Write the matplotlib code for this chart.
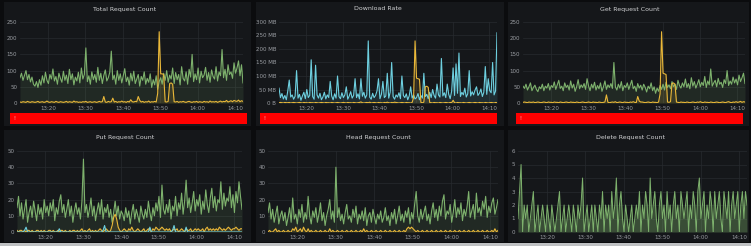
import numpy as np
import matplotlib
matplotlib.use("Agg")
import matplotlib.pyplot as plt
from matplotlib.patches import Rectangle

# ---------------- data ----------------
n_points = 150
start_min = 12.5          # minutes after 13:00
step_min = 0.4
x_tick_minutes = [20, 30, 40, 50, 60, 70]
x_tick_labels = ["13:20", "13:30", "13:40", "13:50", "14:00", "14:10"]

titles = ["Total Request Count", "Download Rate", "Get Request Count",
          "Put Request Count", "Head Request Count", "Delete Request Count"]

total_green = [78, 92, 70, 85, 100, 72, 88, 65, 80, 58,
               52, 66, 48, 72, 55, 84, 62, 95, 70, 60,
               88, 74, 105, 68, 82, 58, 92, 76, 64, 98,
               70, 86, 60, 104, 72, 90, 56, 80, 68, 95,
               62, 108, 74, 88, 170, 66, 84, 58, 96, 72,
               88, 64, 110, 70, 92, 60, 85, 102, 68, 78,
               95, 160, 72, 86, 58, 100, 70, 90, 62, 84,
               106, 66, 80, 55, 92, 68, 98, 60, 74, 88,
               52, 82, 70, 96, 58, 76, 64, 90, 48, 72,
               56, 84, 42, 66, 78, 58, 92, 70, 100, 64,
               86, 74, 108, 60, 94, 72, 88, 56, 112, 76,
               68, 96, 58, 104, 80, 150, 66, 90, 72, 108,
               62, 98, 78, 86, 110, 70, 94, 64, 102, 82,
               74, 112, 68, 96, 84, 165, 78, 104, 70, 118,
               88, 96, 76, 124, 92, 108, 130, 84, 118, 62]
total_yellow = [3, 2, 4, 3, 2, 5, 3, 2, 4, 3,
                2, 3, 5, 2, 3, 4, 2, 3, 6, 3,
                2, 4, 3, 2, 5, 3, 2, 4, 3, 2,
                3, 5, 2, 4, 3, 2, 6, 3, 4, 2,
                3, 2, 4, 3, 5, 2, 3, 4, 2, 3,
                4, 2, 3, 5, 3, 4, 20, 3, 2, 5,
                3, 4, 15, 3, 5, 2, 4, 3, 6, 3,
                4, 2, 5, 3, 10, 4, 3, 5, 4, 20,
                8, 3, 5, 2, 4, 3, 6, 2, 4, 3,
                5, 3, 30, 220, 90, 90, 88, 4, 3, 5,
                60, 62, 58, 4, 3, 5, 2, 4, 3, 5,
                3, 2, 4, 5, 3, 2, 4, 3, 5, 2,
                4, 3, 2, 5, 3, 4, 2, 6, 3, 4,
                3, 5, 2, 4, 6, 3, 5, 4, 8, 3,
                5, 7, 4, 8, 6, 5, 9, 4, 7, 5]

download_cyan = [55, 20, 35, 15, 28, 12, 45, 85, 22, 30,
                 14, 25, 120, 18, 32, 10, 26, 40, 16, 50,
                 20, 28, 160, 24, 14, 140, 30, 18, 36, 12,
                 22, 40, 15, 30, 20, 80, 26, 12, 34, 18,
                 100, 24, 16, 38, 20, 30, 60, 14, 26, 42,
                 18, 28, 90, 20, 34, 15, 90, 25, 40, 18,
                 30, 230, 22, 14, 36, 20, 28, 45, 90, 16,
                 32, 80, 20, 26, 110, 18, 40, 150, 24, 14,
                 30, 22, 38, 16, 100, 28, 20, 34, 12, 26,
                 60, 18, 30, 15, 20, 35, 12, 28, 18, 110,
                 24, 32, 16, 40, 20, 50, 28, 18, 70, 30,
                 22, 165, 26, 38, 20, 70, 32, 16, 44, 130,
                 28, 145, 36, 185, 24, 40, 30, 55, 22, 34,
                 120, 26, 42, 30, 48, 60, 28, 36, 52, 24,
                 40, 135, 32, 90, 46, 38, 150, 30, 44, 260]
download_yellow = [1, 2, 1, 0, 2, 1, 1, 2, 0, 1,
                   2, 1, 0, 1, 2, 1, 0, 2, 1, 1,
                   0, 2, 1, 1, 0, 2, 1, 0, 1, 2,
                   1, 0, 2, 1, 1, 0, 2, 1, 0, 1,
                   2, 1, 0, 1, 2, 1, 0, 2, 1, 1,
                   0, 2, 1, 0, 1, 2, 4, 1, 0, 1,
                   2, 1, 3, 0, 1, 2, 1, 0, 2, 1,
                   1, 0, 2, 1, 3, 1, 0, 2, 1, 3,
                   2, 1, 0, 1, 2, 1, 0, 2, 1, 1,
                   0, 2, 20, 230, 92, 90, 88, 2, 1, 3,
                   60, 62, 58, 2, 1, 0, 2, 1, 1, 0,
                   2, 1, 0, 1, 2, 1, 0, 2, 1, 10,
                   1, 0, 2, 1, 1, 0, 2, 1, 0, 1,
                   2, 1, 0, 1, 2, 1, 0, 2, 1, 1,
                   0, 2, 1, 0, 1, 2, 1, 0, 2, 1]

get_green = [52, 45, 58, 40, 50, 62, 38, 48, 55, 42,
             35, 50, 44, 58, 38, 52, 46, 60, 40, 54,
             48, 65, 42, 56, 70, 45, 52, 38, 62, 48,
             55, 40, 68, 46, 58, 36, 50, 72, 44, 56,
             48, 60, 42, 75, 52, 38, 58, 46, 64, 40,
             54, 44, 62, 36, 50, 68, 42, 56, 48, 60,
             45, 125, 50, 40, 58, 46, 66, 38, 54, 48,
             62, 42, 56, 70, 44, 52, 36, 60, 46, 55,
             40, 58, 48, 34, 52, 44, 62, 38, 50, 30,
             46, 36, 54, 42, 58, 40, 64, 48, 56, 44,
             66, 50, 58, 42, 70, 54, 46, 62, 50, 74,
             48, 60, 44, 78, 52, 66, 46, 58, 72, 50,
             64, 54, 82, 48, 68, 56, 105, 52, 62, 70,
             50, 76, 58, 64, 48, 72, 60, 100, 54, 68,
             58, 80, 62, 74, 56, 86, 66, 78, 92, 60]
get_yellow = [2, 3, 2, 1, 3, 2, 2, 3, 1, 2,
              3, 2, 1, 2, 3, 2, 1, 3, 2, 2,
              1, 3, 2, 2, 1, 3, 2, 1, 2, 3,
              2, 1, 3, 2, 2, 1, 3, 2, 1, 2,
              3, 2, 1, 2, 3, 2, 1, 3, 2, 2,
              1, 3, 2, 1, 2, 3, 25, 2, 1, 2,
              3, 2, 4, 1, 2, 3, 2, 1, 3, 2,
              2, 1, 3, 2, 4, 2, 1, 20, 6, 3,
              3, 2, 1, 2, 3, 2, 1, 3, 2, 2,
              1, 3, 28, 220, 92, 90, 88, 3, 2, 4,
              60, 62, 58, 3, 2, 1, 3, 2, 2, 1,
              3, 2, 1, 2, 3, 2, 1, 3, 2, 4,
              2, 1, 3, 2, 2, 1, 3, 2, 1, 2,
              3, 2, 1, 2, 3, 2, 1, 3, 4, 2,
              1, 3, 2, 4, 2, 3, 5, 2, 4, 3]

put_green = [15, 22, 10, 18, 8, 14, 20, 6, 12, 16,
             9, 19, 13, 7, 17, 11, 15, 8, 20, 12,
             16, 10, 18, 13, 20, 7, 15, 11, 19, 23,
             12, 17, 9, 14, 20, 10, 16, 6, 13, 18,
             11, 15, 8, 19, 45, 12, 17, 9, 14, 21,
             10, 16, 7, 13, 18, 11, 20, 8, 15, 12,
             17, 9, 14, 6, 12, 19, 10, 16, 8, 13,
             11, 7, 15, 9, 13, 5, 12, 17, 8, 14,
             10, 6, 16, 11, 8, 14, 9, 19, 12, 7,
             15, 10, 18, 13, 22, 9, 29, 14, 11, 17,
             12, 20, 8, 16, 13, 22, 10, 18, 14, 24,
             11, 19, 32, 15, 21, 12, 18, 25, 13, 20,
             16, 23, 11, 19, 14, 26, 17, 12, 21, 27,
             15, 22, 13, 20, 18, 31, 14, 24, 16, 21,
             19, 28, 15, 23, 12, 25, 18, 31, 22, 14]
put_yellow = [1, 0, 1, 1, 0, 1, 0, 1, 1, 0,
              1, 0, 0, 1, 1, 0, 1, 0, 1, 0,
              0, 1, 1, 0, 1, 0, 0, 1, 0, 1,
              1, 0, 1, 0, 0, 1, 0, 1, 1, 0,
              1, 0, 1, 2, 0, 1, 0, 1, 2, 0,
              1, 0, 1, 0, 1, 2, 1, 0, 1, 2,
              1, 0, 1, 4, 9, 11, 8, 3, 1, 0,
              1, 2, 1, 0, 2, 1, 3, 1, 0, 1,
              2, 1, 0, 1, 2, 0, 1, 2, 1, 0,
              2, 1, 3, 2, 1, 2, 3, 2, 1, 2,
              1, 2, 0, 1, 2, 1, 2, 0, 1, 2,
              1, 0, 2, 1, 1, 2, 0, 1, 2, 1,
              2, 1, 1, 2, 0, 2, 3, 1, 2, 1,
              2, 1, 2, 1, 3, 2, 1, 2, 1, 2,
              3, 2, 1, 2, 2, 3, 2, 1, 2, 2]
put_cyan = [0, 0, 0, 0, 0, 1, 3, 0, 0, 0,
            0, 0, 0, 0, 0, 0, 0, 0, 0, 0,
            0, 0, 0, 0, 0, 0, 0, 0, 2, 0,
            0, 0, 0, 0, 0, 0, 0, 0, 0, 0,
            0, 0, 0, 0, 0, 0, 0, 0, 0, 0,
            0, 0, 0, 0, 0, 0, 0, 1, 4, 0,
            0, 0, 0, 0, 0, 0, 0, 0, 0, 0,
            0, 0, 0, 0, 0, 0, 0, 0, 0, 0,
            0, 0, 0, 0, 0, 0, 0, 0, 3, 0,
            0, 0, 0, 0, 0, 0, 0, 0, 0, 0,
            0, 0, 0, 1, 4, 0, 0, 0, 0, 0,
            0, 0, 3, 0, 0, 0, 0, 0, 0, 0,
            0, 0, 0, 0, 0, 0, 0, 0, 0, 0,
            0, 0, 0, 0, 0, 0, 0, 0, 0, 0,
            0, 0, 0, 0, 0, 0, 0, 0, 0, 0]

head_green = [12, 18, 8, 14, 6, 11, 16, 5, 10, 13,
              7, 12, 4, 9, 15, 6, 21, 8, 11, 5,
              14, 9, 17, 6, 12, 8, 22, 10, 5, 13,
              9, 15, 6, 11, 18, 7, 12, 4, 10, 14,
              20, 8, 13, 6, 40, 9, 15, 7, 11, 5,
              12, 17, 8, 10, 6, 14, 9, 16, 5, 11,
              8, 13, 7, 15, 4, 10, 12, 6, 14, 9,
              5, 11, 8, 13, 6, 9, 15, 7, 10, 4,
              12, 8, 14, 5, 10, 16, 7, 11, 6, 13,
              9, 15, 5, 12, 8, 17, 25, 10, 6, 14,
              8, 12, 16, 7, 11, 5, 13, 18, 9, 14,
              7, 16, 10, 19, 23, 8, 13, 11, 17, 6,
              12, 20, 9, 15, 11, 18, 7, 14, 10, 16,
              25, 9, 13, 17, 8, 24, 12, 15, 10, 19,
              14, 22, 9, 16, 12, 18, 21, 11, 15, 20]
head_yellow = [0, 1, 0, 0, 1, 2, 0, 1, 0, 0,
               1, 0, 0, 1, 0, 0, 2, 1, 3, 0,
               1, 2, 0, 3, 1, 0, 2, 0, 1, 0,
               0, 1, 0, 0, 1, 0, 0, 1, 0, 0,
               2, 0, 1, 0, 0, 1, 0, 0, 1, 0,
               0, 1, 0, 0, 1, 0, 0, 1, 0, 0,
               1, 0, 2, 0, 1, 0, 0, 1, 0, 0,
               1, 0, 0, 1, 0, 0, 1, 0, 0, 1,
               0, 0, 1, 0, 0, 1, 0, 0, 1, 0,
               2, 3, 2, 3, 2, 1, 0, 1, 0, 0,
               1, 0, 0, 1, 0, 0, 1, 0, 0, 1,
               0, 0, 1, 0, 0, 1, 0, 0, 1, 0,
               0, 1, 0, 0, 1, 0, 0, 1, 0, 0,
               1, 0, 0, 1, 0, 0, 1, 0, 0, 1,
               0, 0, 1, 0, 0, 1, 0, 2, 0, 1]

delete_green = [1, 3, 5, 0, 2, 1, 2, 0, 1, 2,
                3, 0, 1, 2, 0, 1, 2, 1, 0, 2,
                1, 0, 2, 1, 0, 1, 2, 3, 0, 1,
                2, 0, 1, 2, 1, 0, 2, 1, 0, 2,
                1, 2, 4, 0, 1, 2, 0, 1, 2, 0,
                2, 1, 0, 2, 1, 3, 0, 2, 1, 2,
                0, 3, 1, 2, 4, 0, 2, 3, 1, 0,
                2, 1, 0, 1, 2, 0, 1, 2, 1, 3,
                0, 2, 1, 3, 2, 0, 4, 1, 2, 3,
                1, 0, 2, 3, 1, 2, 0, 3, 1, 2,
                0, 2, 3, 1, 2, 0, 3, 2, 1, 2,
                3, 0, 2, 1, 3, 2, 0, 3, 4, 1,
                2, 3, 0, 2, 1, 3, 2, 0, 3, 1,
                2, 3, 1, 0, 3, 2, 1, 3, 0, 2,
                3, 1, 2, 3, 0, 2, 3, 1, 3, 2]

count_ticks = [0, 50, 100, 150, 200, 250]
rate_ticks = [0, 50, 100, 150, 200, 250, 300]
rate_tick_labels = ["0 B", "50 MB", "100 MB", "150 MB", "200 MB", "250 MB", "300 MB"]
small_ticks = [0, 10, 20, 30, 40, 50]
delete_ticks = [0, 1, 2, 3, 4, 5, 6]

# ---------------- style ----------------
W, H = 751, 246
PAGE = "#0b0c0e"
PANEL = "#15171a"
GRID = "#272a2f"
TXT = "#9a9da2"
TITLE = "#d0d1d3"
GREEN = "#7eb26d"
YELLOW = "#eab839"
CYAN = "#6ed0e0"

fig = plt.figure(figsize=(W / 100, H / 100), dpi=100, facecolor=PAGE)


def fig_rect(x0, y0, x1, y1, color, z=-5):
    fig.patches.append(Rectangle((x0 / W, 1 - y1 / H), (x1 - x0) / W, (y1 - y0) / H,
                                 transform=fig.transFigure, figure=fig,
                                 facecolor=color, edgecolor="none", zorder=z))


# panels
panel_boxes = [(4, 2, 251, 126), (256, 2, 504, 126), (508, 2, 749, 126),
               (4, 130, 251, 242), (256, 130, 504, 242), (508, 130, 749, 242)]
for b in panel_boxes:
    fig_rect(*b, PANEL, z=-5)
fig_rect(0, 243, W, H, "#bfc1c3", z=-4)

# red bars under top row
for (x0, x1) in [(10, 247), (260, 497), (516, 743)]:
    fig_rect(x0, 113, x1, 124, "#ff0000", z=-3)
    fig.text((x0 + 3) / W, 1 - 118.5 / H, "!", color="#ffd0d0", fontsize=3.5,
             va="center", ha="left")

t = start_min + step_min * np.arange(n_points)

axes_boxes = [(20, 243, 22, 103), (279, 497, 22, 103), (523, 745, 22, 103),
              (17, 242, 151, 232), (268, 498, 151, 232), (518, 747, 151, 232)]


def make_ax(box):
    l, r, tp, bt = box
    ax = fig.add_axes([l / W, 1 - bt / H, (r - l) / W, (bt - tp) / H])
    ax.set_zorder(2)
    ax.set_facecolor("none")
    for s in ax.spines.values():
        s.set_visible(False)
    ax.tick_params(length=0, labelsize=4, colors=TXT, pad=2)
    ax.grid(True, color=GRID, lw=0.5)
    ax.set_axisbelow(True)
    ax.set_xticks(x_tick_minutes)
    ax.set_xticklabels(x_tick_labels)
    ax.set_xlim(t[0], t[-1])
    return ax


def series(ax, y, color, lw=0.8, alpha=0.12, z=2):
    y = np.asarray(y, dtype=float)
    ax.fill_between(t, 0, y, color=color, alpha=alpha, lw=0, zorder=z)
    ax.plot(t, y, color=color, lw=lw, zorder=z + 0.5)


axs = [make_ax(b) for b in axes_boxes]

# Total
ax = axs[0]
series(ax, total_green, GREEN)
series(ax, total_yellow, YELLOW)
ax.set_ylim(0, 250)
ax.set_yticks(count_ticks)

# Download
ax = axs[1]
series(ax, download_cyan, CYAN)
series(ax, download_yellow, YELLOW)
ax.set_ylim(0, 300)
ax.set_yticks(rate_ticks)
ax.set_yticklabels(rate_tick_labels)

# Get
ax = axs[2]
series(ax, get_green, GREEN)
series(ax, get_yellow, YELLOW)
ax.set_ylim(0, 250)
ax.set_yticks(count_ticks)

# Put
ax = axs[3]
series(ax, put_green, GREEN)
series(ax, put_yellow, YELLOW)
series(ax, put_cyan, CYAN)
ax.set_ylim(0, 50)
ax.set_yticks(small_ticks)

# Head
ax = axs[4]
series(ax, head_green, GREEN)
series(ax, head_yellow, YELLOW)
ax.set_ylim(0, 50)
ax.set_yticks(small_ticks)

# Delete
ax = axs[5]
series(ax, delete_green, GREEN, lw=0.7, alpha=0.35)
ax.set_ylim(0, 6)
ax.set_yticks(delete_ticks)

# titles
title_pos = [(125, 9), (378, 9), (630, 9), (125, 138), (378, 138), (630, 138)]
for (x, y), s in zip(title_pos, titles):
    fig.text(x / W, 1 - y / H, s, color=TITLE, fontsize=4.5, ha="center", va="center")

fig.savefig("out.png", dpi=100, facecolor=PAGE)
